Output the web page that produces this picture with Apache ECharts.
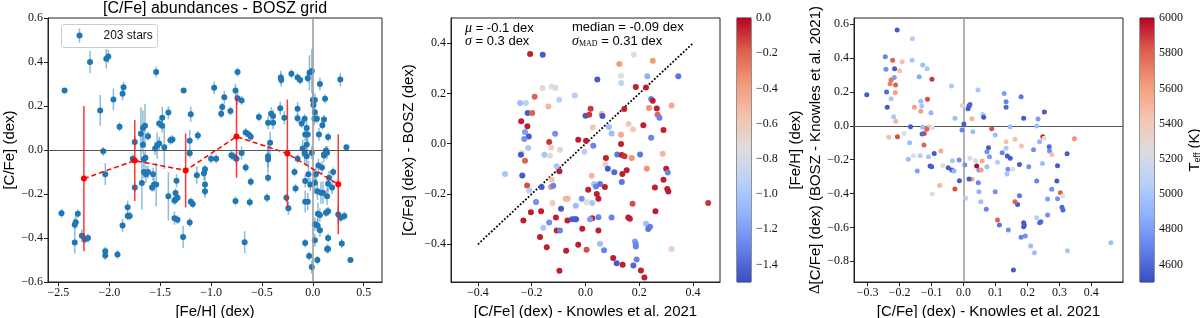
<!DOCTYPE html>
<html><head><meta charset="utf-8">
<script src="https://cdn.jsdelivr.net/npm/echarts@6/dist/echarts.min.js"></script>
<style>html,body{margin:0;padding:0;background:#fff}#c{width:1200px;height:318px}</style>
</head><body><div id="c"></div>
<script>
// ---------- DATA ----------
// Panel 1: [ [Fe/H], [C/Fe]_BOSZ, error ]
const p1Stars = [
[-2.44,0.27,0.01],[-2.19,0.40,0.05],[-2.03,0.415,0.045],[-2.01,0.425,0.03],[-2.09,0.18,0.07],[-1.96,0.23,0.05],
[-1.87,0.256,0.03],[-1.86,0.285,0.025],[-2.06,-0.006,0.02],[-1.90,0.106,0.02],[-1.54,0.354,0.025],[-1.27,0.27,0.01],
[-1.20,0.163,0.035],[-1.13,0.066,0.02],[-1.21,0.042,0.05],[-1.21,-0.015,0.02],[-1.75,0.036,0.03],[-1.69,0.074,0.12],
[-1.67,0.10,0.08],[-1.65,0.11,0.1],[-1.62,0.063,0.02],[-1.67,0.024,0.04],[-1.55,0.007,0.03],[-1.53,0.02,0.06],
[-1.51,0.03,0.03],[-1.51,0.12,0.02],[-1.48,0.11,0.03],[-1.48,0.147,0.05],[-1.46,0.013,0.1],[-1.42,0.17,0.03],
[-1.40,0.044,0.02],[-1.38,0.048,0.02],[-1.645,-0.035,0.03],[-1.77,-0.04,0.02],
[-2.47,-0.288,0.02],[-2.34,-0.34,0.03],[-2.33,-0.328,0.03],[-2.31,-0.29,0.02],[-2.34,-0.42,0.05],[-2.27,-0.39,0.03],
[-2.24,-0.406,0.02],[-2.21,-0.40,0.02],[-2.04,-0.11,0.05],[-2.04,-0.46,0.02],[-2.04,-0.48,0.02],[-1.92,-0.475,0.02],
[-1.87,-0.343,0.03],[-1.82,-0.26,0.03],[-1.82,-0.30,0.02],[-1.80,-0.30,0.02],[-1.75,-0.17,0.02],[-1.68,-0.15,0.12],
[-1.66,-0.10,0.03],[-1.64,-0.11,0.04],[-1.62,-0.10,0.03],[-1.66,-0.043,0.03],[-1.57,-0.11,0.03],[-1.56,-0.157,0.03],
[-1.54,-0.157,0.1],[-1.58,-0.17,0.02],[-1.42,-0.21,0.11],[-1.35,-0.195,0.02],[-1.35,-0.225,0.02],[-1.36,-0.23,0.02],
[-1.33,-0.217,0.02],[-1.34,-0.14,0.03],[-1.36,-0.31,0.03],[-1.33,-0.317,0.02],[-1.20,-0.235,0.02],[-1.18,-0.245,0.02],
[-1.21,-0.33,0.02],[-1.275,-0.396,0.05],[-1.14,-0.115,0.04],
[-0.97,0.283,0.03],[-0.87,0.24,0.03],[-0.89,0.195,0.02],[-0.90,0.165,0.02],[-0.81,0.177,0.02],[-0.76,0.27,0.03],
[-0.74,0.354,0.02],[-0.74,0.235,0.03],[-0.70,0.225,0.02],[-0.66,0.08,0.02],[-0.63,0.07,0.02],[-0.61,0.06,0.02],
[-0.70,-0.014,0.03],[-0.78,-0.03,0.02],[-0.53,0.15,0.02],[-0.44,0.124,0.03],[-0.41,0.165,0.03],[-0.39,0.154,0.03],
[-0.39,0.124,0.03],[-0.42,0.033,0.05],[-0.44,-0.028,0.05],[-0.32,0.19,0.03],[-0.315,0.33,0.03],[-0.31,0.318,0.03],
[-0.21,0.347,0.02],[-0.15,0.329,0.02],[-0.125,0.318,0.02],[-0.05,0.326,0.02],[-0.033,0.351,0.08],[-0.01,0.359,0.1],
[-0.28,0.147,0.03],[-0.15,0.188,0.03],[-0.15,0.144,0.02],[-0.08,0.142,0.02],[-0.11,0.121,0.02],[-0.06,0.10,0.03],
[-0.075,0.071,0.03],[-0.05,0.071,0.04],[-0.06,0.025,0.04],[-0.10,0.007,0.04],[-0.08,-0.015,0.05],[-0.06,-0.028,0.04],
[0.0,0.227,0.04],[0.02,0.227,0.03],[0.006,0.204,0.03],[0.02,0.172,0.03],[0.016,0.142,0.03],[0.04,0.142,0.02],
[0.07,0.30,0.03],[0.12,0.233,0.02],[0.11,0.139,0.02],[0.094,0.113,0.02],[0.06,0.071,0.03],[0.15,0.059,0.02],
[0.13,-0.002,0.02],[0.11,-0.02,0.02],[0.27,0.32,0.03],[0.33,0.013,0.01],
[-1.07,-0.106,0.03],[-1.06,-0.157,0.06],[-1.06,-0.187,0.02],[-1.00,-0.04,0.02],[-0.95,-0.04,0.02],[-1.06,-0.088,0.02],
[-0.76,-0.232,0.02],[-0.67,-0.419,0.05],[-0.66,-0.08,0.02],[-0.61,-0.144,0.02],[-0.62,-0.237,0.02],[-0.80,-0.024,0.02],
[-0.75,-0.04,0.03],[-0.44,-0.043,0.06],[-0.44,-0.126,0.02],[-0.45,-0.217,0.02],[-0.26,-0.217,0.02],[-0.24,-0.265,0.03],
[-0.18,-0.10,0.02],[-0.17,-0.175,0.02],[-0.15,-0.04,0.02],[-0.075,-0.235,0.05],[-0.05,-0.235,0.04],[-0.043,-0.11,0.06],
[-0.075,-0.423,0.02],[-0.036,-0.482,0.02],[-0.01,-0.532,0.03],[0.045,-0.50,0.02],[0.02,-0.41,0.03],[0.02,-0.338,0.03],
[0.045,-0.343,0.03],[0.07,-0.365,0.03],[0.02,-0.149,0.05],[0.045,-0.187,0.04],[0.08,-0.194,0.05],[0.10,-0.194,0.05],
[0.14,-0.21,0.04],[0.13,-0.285,0.02],[0.15,-0.278,0.02],[0.15,-0.40,0.02],[0.14,-0.45,0.02],[0.15,-0.45,0.02],
[0.05,-0.29,0.05],[0.07,-0.296,0.03],[0.15,-0.153,0.04],[0.19,-0.17,0.03],[0.20,-0.10,0.02],[0.16,-0.126,0.03],
[0.25,-0.293,0.04],[0.275,-0.308,0.02],[0.31,-0.30,0.02],[0.285,-0.425,0.02],[0.37,-0.50,0.01],[0.055,-0.07,0.03],
[0.09,-0.08,0.03],[0.11,-0.025,0.03],[0.14,-0.012,0.03],[-0.01,-0.012,0.03],[0.03,-0.11,0.03],[-0.075,-0.141,0.03],
[-0.025,-0.157,0.03]
];
// Panel 1 binned means: [ [Fe/H] bin centre, mean [C/Fe], error ]
const p1Bins = [[-2.25,-0.13,0.33],[-1.75,-0.048,0.184],[-1.25,-0.093,0.168],[-0.75,0.061,0.187],[-0.25,-0.016,0.246],[0.25,-0.156,0.227]];
const p1Label = '203 stars';

// Panel 2: [ [C/Fe]_Knowles, [C/Fe]_BOSZ, [Fe/H] ]
const p2Points = [
[-0.206,0.357,-0.05],[-0.159,0.354,-1.45],[-0.16,0.222,-0.7],[-0.126,0.228,-0.75],[-0.112,0.222,-0.8],[-0.189,0.187,-0.2],
[-0.243,0.162,-1.05],[-0.222,0.162,-0.92],[-0.138,0.148,-0.5],[-0.098,0.175,-0.92],[-0.04,0.192,-0.95],[-0.215,0.122,-1.45],
[-0.198,0.122,-0.2],[-0.239,0.089,-0.05],[-0.216,0.069,-0.05],[-0.225,0.047,-1.2],[-0.211,0.029,-1.45],[-0.228,0.019,-1.25],
[-0.113,0.04,-1.25],[-0.135,0.007,-0.1],[-0.213,-0.017,-1.0],[-0.128,-0.015,-0.65],[-0.237,-0.037,-0.8],[-0.24,-0.044,-1.45],
[-0.153,-0.044,-1.0],[-0.132,-0.048,-0.75],[-0.095,-0.024,-0.7],[-0.027,0.016,-0.05],[0.002,0.012,-0.05],[0.0,0.111,-1.45],
[0.014,0.115,-0.1],[0.019,0.139,-0.1],
[0.18,0.354,-0.75],[0.126,0.317,-0.38],[0.25,0.33,-0.38],[0.044,0.255,-1.45],[0.132,0.27,-0.75],[0.133,0.241,-0.9],
[0.23,0.268,-1.1],[0.345,0.268,-1.35],[0.187,0.226,-0.05],[0.225,0.224,-0.05],[0.244,0.178,-1.3],[0.25,0.171,-0.05],
[0.32,0.152,-0.45],[0.236,0.142,-0.35],[0.265,0.14,-0.05],[0.268,0.115,-0.2],[0.275,0.103,-1.3],[0.144,0.138,-0.05],
[0.06,0.119,-0.5],[0.063,0.11,-1.45],[0.027,0.064,-0.6],[0.087,0.066,-1.05],[0.097,0.041,-1.05],[0.16,0.078,-0.6],
[0.177,0.058,-0.6],[0.132,0.036,-0.45],[0.215,0.073,-0.05],[0.29,0.055,-0.05],[0.244,0.024,-1.3],[0.132,-0.001,-0.05],
[0.029,-0.008,-1.3],[-0.004,-0.032,-0.95],[0.076,-0.057,-0.05],[0.118,-0.043,-1.35],[0.135,-0.045,-0.05],[0.145,-0.05,-0.1],
[0.203,-0.043,-1.35],[0.287,-0.04,-0.5],
[-0.225,-0.068,-0.2],[-0.299,-0.12,-1.0],[-0.235,-0.126,-1.45],[-0.107,-0.09,-1.0],[-0.097,-0.11,-0.05],[-0.217,-0.166,-0.15],
[-0.209,-0.186,-0.95],[-0.163,-0.172,-1.45],[-0.128,-0.172,-0.35],[-0.12,-0.167,-1.3],[-0.126,-0.143,-0.55],[-0.184,-0.232,-1.25],
[-0.123,-0.236,-0.6],[-0.074,-0.219,-0.5],[-0.066,-0.219,-0.5],[-0.036,-0.247,-1.05],[-0.014,-0.219,-1.25],[0.004,-0.233,-0.75],
[0.01,-0.183,-0.05],[-0.091,-0.259,-1.45],[-0.203,-0.273,-0.05],[-0.165,-0.269,-0.05],[-0.231,-0.305,-0.05],[-0.11,-0.293,-0.05],
[-0.135,-0.313,-1.25],[-0.157,-0.334,-1.0],[-0.107,-0.345,-0.05],[-0.095,-0.345,-1.3],[-0.067,-0.305,-0.05],[-0.05,-0.3,-1.45],
[-0.04,-0.3,-1.45],[-0.035,-0.3,-1.45],[-0.012,-0.338,-0.05],[-0.169,-0.371,-0.05],[-0.144,-0.412,-0.05],[-0.072,-0.426,-0.05],
[-0.027,-0.402,-0.05],[0.004,-0.422,-0.15],[-0.097,-0.505,-0.05],
[0.172,-0.057,-0.35],[0.074,-0.081,-0.65],[0.083,-0.1,-1.45],[0.107,-0.113,-1.4],[0.137,-0.12,-0.05],[0.153,-0.106,-0.05],
[0.228,-0.1,-0.35],[0.3,-0.1,-0.05],[0.306,-0.114,-1.3],[0.29,-0.143,-0.05],[0.135,-0.152,-1.35],[0.023,-0.127,-0.5],
[0.032,-0.16,-1.0],[0.039,-0.17,-1.3],[0.054,-0.16,-1.35],[0.072,-0.172,-0.05],[0.042,-0.2,-0.05],[0.048,-0.219,-0.05],
[0.025,-0.236,-1.0],[0.258,-0.174,-0.05],[0.304,-0.18,-0.05],[0.308,-0.19,-0.05],[0.175,-0.239,-0.15],[0.26,-0.269,-0.05],
[0.025,-0.296,-0.05],[0.048,-0.292,-1.3],[0.017,-0.3,-1.2],[0.097,-0.293,-1.3],[0.159,-0.293,-0.05],[0.165,-0.298,-0.05],
[0.048,-0.345,-0.05],[0.225,-0.318,-1.05],[0.24,-0.33,-1.3],[0.233,-0.339,-1.35],[0.054,-0.398,-1.05],[0.069,-0.424,-1.3],
[0.184,-0.389,-1.2],[0.187,-0.398,-1.25],[0.187,-0.409,-1.3],[0.32,-0.419,-0.65],[0.103,-0.455,-0.05],[0.116,-0.475,-1.45],
[0.138,-0.481,-0.05],[0.19,-0.461,-1.3],[0.178,-0.484,-1.4],[0.206,-0.504,-0.05],[0.219,-0.532,-0.05],[0.456,-0.236,-0.1]
];
// Panel 2 reference line (one-to-one) endpoints
const p2OneToOne = [[-0.4,-0.4],[0.4,0.4]];

// Panel 3: [ [C/Fe]_Knowles, Δ[C/Fe], Teff ]
const p3Points = [
[-0.303,0.183,4550],[-0.208,0.565,4550],[-0.16,0.513,5050],[-0.245,0.407,4700],[-0.222,0.386,5800],[-0.192,0.378,5450],
[-0.161,0.386,5000],[-0.243,0.333,4750],[-0.216,0.336,4550],[-0.2,0.324,5450],[-0.128,0.358,4950],[-0.114,0.336,5000],
[-0.217,0.285,4800],[-0.227,0.27,5750],[-0.23,0.248,5700],[-0.213,0.24,5800],[-0.139,0.289,4850],[-0.099,0.275,5900],
[-0.038,0.234,5000],[0.045,0.211,5000],[-0.241,0.199,4600],[-0.214,0.197,5600],[-0.227,0.159,5000],[-0.239,0.11,4550],
[-0.113,0.156,5850],[-0.134,0.144,4950],[-0.154,0.109,5600],[-0.131,0.116,5000],[-0.134,0.085,5600],[-0.102,0.077,4900],
[-0.219,0.053,5000],[-0.212,0.026,5500],[-0.027,0.044,4950],[-0.004,0.12,5300],[0.017,0.116,4550],[0.02,0.126,4600],
[0.014,0.1,4550],[0.026,0.041,5500],[0.06,0.067,5000],[0.063,0.05,4550],[0.001,0.01,4550],[-0.005,-0.025,4700],
[0.029,-0.035,4950],[-0.166,-0.006,4550],[-0.186,-0.045,5250],[-0.234,-0.068,5450],[-0.207,-0.065,5850],[-0.128,-0.009,4950],
[-0.109,-0.006,5450],[-0.123,-0.045,5850],[-0.13,-0.049,4600],[-0.115,-0.021,5800],[-0.098,-0.012,5250],[-0.124,-0.114,5800],
[-0.169,-0.1,4950],[-0.092,-0.163,4550],[-0.071,-0.149,5550],[0.088,-0.018,5850],[0.099,-0.055,4950],[0.078,-0.13,4550],
[0.073,-0.153,4750],[0.081,-0.183,4800],
[0.127,0.191,4800],[0.133,0.142,4700],[0.133,0.109,4600],[0.18,0.171,4650],[0.188,0.044,4550],[0.233,0.04,4800],
[0.253,0.081,4550],[0.146,-0.006,4950],[0.229,-0.002,4950],[0.248,-0.065,5950],[0.252,-0.074,5250],[0.161,-0.08,5450],
[0.133,-0.094,5450],[0.133,-0.133,5000],[0.181,-0.12,5450],[0.238,-0.094,4900],[0.219,-0.141,4750],[0.268,-0.124,4600],
[0.269,-0.149,4750],[0.276,-0.169,5450],[0.347,-0.077,5650],[0.324,-0.165,4550],[0.121,-0.159,4700],[0.137,-0.179,4550],
[0.146,-0.192,4550],
[-0.173,-0.198,4950],[-0.157,-0.177,5250],[-0.136,-0.177,5050],[-0.11,-0.183,5000],[-0.105,-0.238,4550],[-0.1,-0.242,4550],
[-0.145,-0.267,4800],[-0.065,-0.236,5250],[-0.048,-0.248,4550],[-0.037,-0.261,4550],[-0.03,-0.267,4900],[-0.035,-0.206,5000],
[-0.014,-0.202,4750],[0.004,-0.232,4750],[0.02,-0.192,5200],[0.041,-0.238,6000],[0.037,-0.206,5200],[0.058,-0.208,5550],
[0.073,-0.242,4950],[0.048,-0.261,4750],[0.055,-0.261,5600],[0.026,-0.316,5600],[0.017,-0.314,4550],[-0.013,-0.324,4550],
[0.046,-0.336,4700],[-0.027,-0.373,5850],[-0.075,-0.352,5500],[-0.098,-0.403,5250],[0.048,-0.389,4900],[0.054,-0.448,4950],
[0.006,-0.428,5050],[0.071,-0.493,4700],[0.099,-0.389,4750],[0.106,-0.556,5800],[0.112,-0.586,4650],
[0.106,-0.216,5050],[0.139,-0.256,4750],[0.154,-0.256,5250],[0.136,-0.285,5000],[0.175,-0.228,4550],[0.204,-0.242,4750],
[0.247,-0.222,4950],[0.294,-0.236,4550],[0.229,-0.326,4700],[0.292,-0.326,4550],[0.175,-0.413,4650],[0.169,-0.464,4550],
[0.161,-0.448,5800],[0.276,-0.375,4750],[0.263,-0.432,4800],[0.294,-0.431,4750],[0.303,-0.395,5800],[0.31,-0.415,5250],
[0.308,-0.481,4600],[0.311,-0.497,4600],[0.14,-0.615,4750],[0.188,-0.572,4550],[0.19,-0.586,4550],[0.188,-0.596,4550],
[0.229,-0.543,5050],[0.238,-0.572,4600],[0.242,-0.566,4600],[0.263,-0.527,4750],[0.18,-0.658,4700],[0.193,-0.65,4750],
[0.21,-0.71,4950],[0.222,-0.749,4950],[0.325,-0.737,5000],[0.461,-0.69,4950],[0.156,-0.851,4550]
];

// Tick values
const p1XTicks = [-2.5,-2.0,-1.5,-1.0,-0.5,0.0,0.5];
const p1YTicks = [-0.6,-0.4,-0.2,0.0,0.2,0.4,0.6];
const p2XTicks = [-0.4,-0.2,0.0,0.2,0.4];
const p2YTicks = [-0.4,-0.2,0.0,0.2,0.4];
const cb2Ticks = [-1.4,-1.2,-1.0,-0.8,-0.6,-0.4,-0.2,0.0];
const p3XTicks = [-0.3,-0.2,-0.1,0.0,0.1,0.2,0.3,0.4];
const p3YTicks = [-0.8,-0.6,-0.4,-0.2,0.0,0.2,0.4,0.6];
const cb3Ticks = [4600,4800,5000,5200,5400,5600,5800,6000];

// ---------- STYLE ----------
const coolwarm = ['#3b4cc0','#6282ea','#8db0fe','#b8d0f9','#dddddd','#f5c4ad','#f49a7b','#de604d','#b40426'];
const SERIF = 'Liberation Serif', SANS = 'Liberation Sans';
const INK = '#222';
const fmt = d => v => (v < 0 ? '\u2212' : '') + Math.abs(v).toFixed(d);

function valAxis(gi, min, max, ticks, dec, extra) {
  return Object.assign({
    gridIndex: gi, type: 'value', min: min, max: max,
    axisLine: {show: true, onZero: false, lineStyle: {color: INK, width: 1}},
    axisTick: {show: true, customValues: ticks, length: 4, lineStyle: {color: INK}},
    axisLabel: {customValues: ticks, formatter: fmt(dec), fontFamily: SERIF, fontSize: 12, color: '#111', margin: 5},
    splitLine: {show: false},
    nameLocation: 'middle',
    nameTextStyle: {fontFamily: SANS, fontSize: 15, color: '#000'}
  }, extra || {});
}
const hidden = gi => ({gridIndex: gi, type: 'value', min: 0, max: 1, show: false});
const grid = (l, w) => ({left: l, top: 18, width: w, height: 264, show: true, borderColor: INK, borderWidth: 1, outerBoundsMode: 'none', containLabel: false});

function errRender(color) {
  return function (params, api) {
    const x = api.value(0), y = api.value(1), e = api.value(2);
    const a = api.coord([x, y - e]), b = api.coord([x, y + e]);
    return {type: 'line', shape: {x1: a[0], y1: a[1], x2: b[0], y2: b[1]}, style: {stroke: color, lineWidth: 1.5}};
  };
}
function cbarRender(params) {
  const cs = params.coordSys;
  const stops = coolwarm.slice().reverse().map((c, i) => ({offset: i / (coolwarm.length - 1), color: c}));
  return {type: 'rect', shape: {x: cs.x, y: cs.y, width: cs.width, height: cs.height},
          style: {fill: new echarts.graphic.LinearGradient(0, 0, 0, 1, stops)}};
}

const option = {
  animation: false,
  backgroundColor: '#fff',
  grid: [grid(48, 334), grid(451, 269), grid(737, 14), grid(854, 269), grid(1140, 14)],
  xAxis: [
    valAxis(0, -2.603, 0.68, p1XTicks, 1, {name: '[Fe/H] (dex)', nameGap: 11}),
    valAxis(1, -0.5, 0.5, p2XTicks, 1, {name: '[C/Fe] (dex) - Knowles et al. 2021', nameGap: 11}),
    hidden(2),
    valAxis(3, -0.343, 0.499, p3XTicks, 1, {name: '[C/Fe] (dex) - Knowles et al. 2021', nameGap: 11}),
    hidden(4)
  ],
  yAxis: [
    valAxis(0, -0.6, 0.6, p1YTicks, 1, {name: '[C/Fe] (dex)', nameGap: 30}),
    valAxis(1, -0.55, 0.5, p2YTicks, 1, {name: '[C/Fe] (dex) - BOSZ (dex)', nameGap: 35}),
    valAxis(2, -1.5, 0, cb2Ticks, 1, {position: 'right', name: '[Fe/H] (dex)', nameGap: 37, nameRotate: 90, axisLine: {show: false}}),
    valAxis(3, -0.922, 0.636, p3YTicks, 1, {name: '{d|\u0394}[C/Fe] (dex) (BOSZ - Knowles et al. 2021)', nameGap: 31,
      nameTextStyle: {fontFamily: SANS, fontSize: 15, color: '#000', rich: {d: {fontFamily: SERIF, fontSize: 15, color: '#000'}}}}),
    valAxis(4, 4500, 6000, cb3Ticks, 0, {position: 'right', name: '{t|T}{s|eff} (K)', nameGap: 30, nameRotate: 90, axisLine: {show: false},
      nameTextStyle: {fontFamily: SANS, fontSize: 15, color: '#000', rich: {t: {fontFamily: SANS, fontSize: 15, color: '#000'}, s: {fontFamily: SANS, fontSize: 9, color: '#000', padding: [6, 0, 0, 0]}}}})
  ],
  visualMap: [
    {type: 'continuous', show: false, seriesIndex: 5, dimension: 2, min: -1.5, max: 0, inRange: {color: coolwarm, opacity: 1}},
    {type: 'continuous', show: false, seriesIndex: 6, dimension: 2, min: 4500, max: 6000, inRange: {color: coolwarm, opacity: 1}}
  ],
  series: [
    {type: 'custom', xAxisIndex: 0, yAxisIndex: 0, data: p1Stars, renderItem: errRender('rgba(31,119,180,0.5)'), z: 2, silent: true,
     markLine: {silent: true, symbol: 'none', label: {show: false}, animation: false,
       data: [{yAxis: 0, lineStyle: {color: '#555', width: 1, type: 'solid'}}, {xAxis: 0, lineStyle: {color: '#999', width: 1.5, type: 'solid'}}]}},
    {name: p1Label, type: 'scatter', xAxisIndex: 0, yAxisIndex: 0, data: p1Stars, symbolSize: 6, itemStyle: {color: '#1f77b4', opacity: 1}, z: 3},
    {type: 'custom', xAxisIndex: 0, yAxisIndex: 0, data: p1Bins, renderItem: errRender('rgba(255,20,20,0.85)'), z: 4, silent: true},
    {type: 'line', xAxisIndex: 0, yAxisIndex: 0, data: p1Bins, symbol: 'circle', symbolSize: 6, showSymbol: true,
     itemStyle: {color: '#ff0000', opacity: 1}, lineStyle: {color: '#ff0000', width: 1.5, type: [5, 3]}, z: 5},
    {type: 'line', xAxisIndex: 1, yAxisIndex: 1, data: p2OneToOne, showSymbol: false, symbol: 'none',
     lineStyle: {color: '#000', width: 1.8, type: [1.8, 1.8]}, z: 2},
    {type: 'scatter', xAxisIndex: 1, yAxisIndex: 1, data: p2Points, symbolSize: 6, itemStyle: {opacity: 1}, z: 3},
    {type: 'scatter', xAxisIndex: 3, yAxisIndex: 3, data: p3Points, symbolSize: 5, itemStyle: {opacity: 1}, z: 3,
     markLine: {silent: true, symbol: 'none', label: {show: false}, animation: false, z: 1,
       data: [{yAxis: 0, lineStyle: {color: '#555', width: 1, type: 'solid'}}, {xAxis: 0, lineStyle: {color: '#999', width: 1.5, type: 'solid'}}]}},
    {type: 'custom', xAxisIndex: 2, yAxisIndex: 2, data: [[0.5, -0.75]], renderItem: cbarRender, silent: true},
    {type: 'custom', xAxisIndex: 4, yAxisIndex: 4, data: [[0.5, 5250]], renderItem: cbarRender, silent: true}
  ],
  graphic: [
    {type: 'text', x: 215, y: 1, style: {text: '[C/Fe] abundances - BOSZ grid', textAlign: 'center', textVerticalAlign: 'top',
      fontFamily: SANS, fontSize: 16, fill: '#000'}},
    // legend box of panel 1
    {type: 'group', left: 61, top: 24, z: 100, children: [
      {type: 'rect', shape: {x: 0, y: 0, width: 96, height: 23, r: 3}, style: {fill: 'rgba(255,255,255,0.8)', stroke: '#cccccc', lineWidth: 1}},
      {type: 'line', shape: {x1: 18, y1: 4, x2: 18, y2: 18}, style: {stroke: 'rgba(31,119,180,0.5)', lineWidth: 1.5}},
      {type: 'circle', shape: {cx: 18, cy: 11, r: 3}, style: {fill: '#1f77b4'}},
      {type: 'text', x: 42, y: 11.5, style: {text: p1Label, textVerticalAlign: 'middle', fontFamily: SANS, fontSize: 12, fill: '#111'}}
    ]},
    {type: 'text', x: 465, y: 21, style: {text: '{g|\u03bc} = -0.1 dex', fontFamily: SANS, fontSize: 13, fill: '#000',
      rich: {g: {fontFamily: SERIF, fontStyle: 'italic', fontSize: 14}}}},
    {type: 'text', x: 465, y: 34, style: {text: '{g|\u03c3} = 0.3 dex', fontFamily: SANS, fontSize: 13, fill: '#000',
      rich: {g: {fontFamily: SERIF, fontStyle: 'italic', fontSize: 14}}}},
    {type: 'text', x: 572, y: 21, style: {text: 'median = -0.09 dex', fontFamily: SANS, fontSize: 13, fill: '#000'}},
    {type: 'text', x: 572, y: 34, style: {text: '{g|\u03c3}{s|MAD} = 0.31 dex', fontFamily: SANS, fontSize: 13, fill: '#000',
      rich: {g: {fontFamily: SERIF, fontStyle: 'italic', fontSize: 14}, s: {fontFamily: SERIF, fontSize: 8, padding: [5, 0, 0, 0]}}}}
  ]
};
const chart = echarts.init(document.getElementById('c'), null, {renderer: 'canvas', width: 1200, height: 318});
chart.setOption(option);
</script></body></html>
